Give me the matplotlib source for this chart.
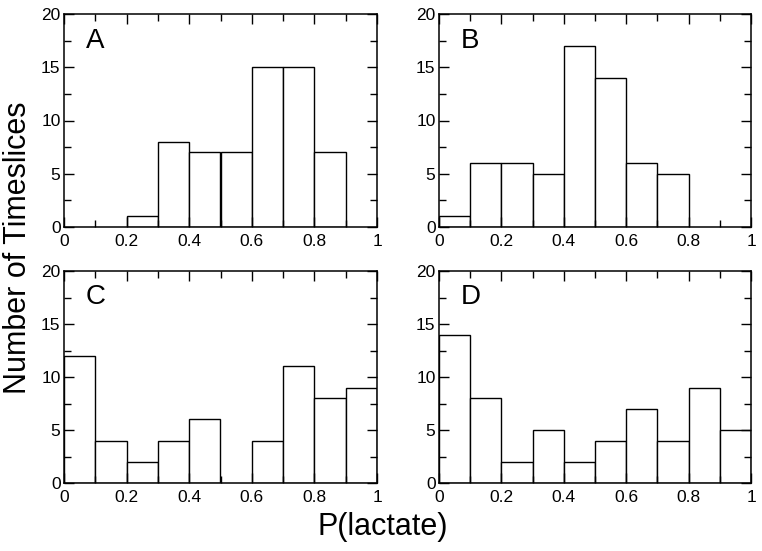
import numpy as np
import matplotlib.pyplot as plt
from matplotlib.ticker import MultipleLocator

plt.rcParams['font.family'] = ['Liberation Sans', 'DejaVu Sans']

bin_edges = [0.0, 0.1, 0.2, 0.3, 0.4, 0.5, 0.6, 0.7, 0.8, 0.9, 1.0]
counts_a = [0, 0, 1, 8, 7, 7, 15, 15, 7, 0]
counts_b = [1, 6, 6, 5, 17, 14, 6, 5, 0, 0]
counts_c = [12, 4, 2, 4, 6, 0, 4, 11, 8, 9]
counts_d = [14, 8, 2, 5, 2, 4, 7, 4, 9, 5]
panel_labels = ['A', 'B', 'C', 'D']

W, H = 762, 551
fig = plt.figure(figsize=(W / 100, H / 100), dpi=100)

# axes boxes in pixels: left, top, right, bottom
boxes = [(64, 14, 377, 227), (439, 14, 751, 227),
         (64, 271, 377, 483), (439, 271, 751, 483)]

for box, counts, lab in zip(boxes, [counts_a, counts_b, counts_c, counts_d], panel_labels):
    l, t, r, b = box
    ax = fig.add_axes([l / W, 1 - b / H, (r - l) / W, (b - t) / H])
    lefts = np.array(bin_edges[:-1])
    widths = np.diff(bin_edges)
    heights = np.array(counts)
    mask = heights > 0
    ax.bar(lefts[mask], heights[mask], width=widths[mask], align='edge',
           facecolor='white', edgecolor='black', linewidth=1.0)
    ax.set_xlim(0, 1)
    ax.set_ylim(0, 20)
    ax.xaxis.set_major_locator(MultipleLocator(0.2))
    ax.xaxis.set_minor_locator(MultipleLocator(0.1))
    ax.yaxis.set_major_locator(MultipleLocator(5))
    ax.yaxis.set_minor_locator(MultipleLocator(2.5))
    ax.xaxis.set_major_formatter(plt.FuncFormatter(lambda v, p: '%g' % round(v, 2)))
    ax.tick_params(which='both', direction='in', top=True, right=True,
                   labelsize=12.5, width=1.0)
    ax.tick_params(axis='y', pad=2.5)
    ax.tick_params(axis='x', pad=5)
    ax.tick_params(which='major', length=7)
    ax.tick_params(which='minor', length=5)
    for s in ax.spines.values():
        s.set_linewidth(1.1)
    ax.text(0.07, 0.875, lab, transform=ax.transAxes, fontsize=20,
            ha='left', va='center')

fig.text(18 / W, 1 - 248 / H, 'Number of Timeslices', rotation=90,
         fontsize=22, ha='center', va='center')
fig.text(383 / W, 1 - 527 / H, 'P(lactate)', fontsize=22,
         ha='center', va='center')

fig.savefig('out.png', dpi=100)
